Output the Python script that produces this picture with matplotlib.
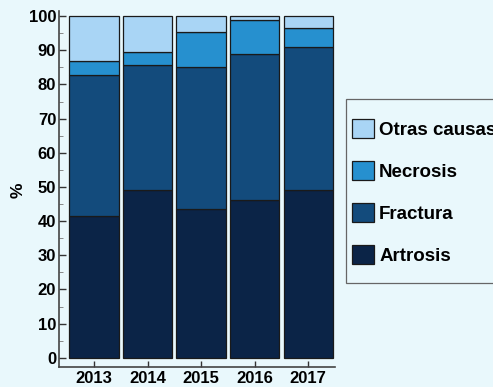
import matplotlib
matplotlib.use("Agg")
import matplotlib.pyplot as plt
from matplotlib.patches import Rectangle
import numpy as np

years = ["2013", "2014", "2015", "2016", "2017"]
artrosis = [41.5, 49.1, 43.5, 46.1, 49.0]
fractura = [41.2, 36.6, 41.6, 42.9, 42.0]
necrosis = [4.1, 3.9, 10.2, 9.8, 5.5]
otras = [13.2, 10.4, 4.7, 1.2, 3.5]

series = [("Artrosis", artrosis, "#0b2447"),
          ("Fractura", fractura, "#134b7c"),
          ("Necrosis", necrosis, "#2690cf"),
          ("Otras causas", otras, "#a9d5f5")]

plt.rcParams['font.family'] = ['Liberation Sans', 'DejaVu Sans']
plt.rcParams['font.weight'] = 'bold'

bg = "#e9f8fc"
fig = plt.figure(figsize=(4.93, 3.87), dpi=100, facecolor=bg)
ax = fig.add_axes([59/493, 20/387, (335-59)/493, (367-11)/387], facecolor=bg)

x = np.arange(len(years))
bottom = np.zeros(len(years))
handles = {}
for name, vals, col in series:
    b = ax.bar(x, vals, bottom=bottom, width=0.92, color=col,
               edgecolor="#1a1a1a", linewidth=0.9, label=name)
    handles[name] = b
    bottom += np.array(vals)

ax.set_xlim(-0.654, 4.5)
ax.set_ylim(-2.7, 101.5)
ax.set_yticks(np.arange(0, 101, 10))
ax.set_yticks(np.arange(0, 101, 5), minor=True)
ax.set_xticks(x)
ax.set_xticklabels(years)
ax.tick_params(axis='both', direction='in', labelsize=12, colors="#333333",
               labelcolor="black", width=1)
ax.tick_params(axis='y', which='major', length=5, pad=2)
ax.tick_params(axis='y', which='minor', length=3, direction='in', colors="#777777")
ax.tick_params(axis='x', length=4, pad=3)
for lab in ax.get_xticklabels() + ax.get_yticklabels():
    lab.set_fontweight('bold')
for s in ['top', 'right']:
    ax.spines[s].set_visible(False)
for s in ['left', 'bottom']:
    ax.spines[s].set_color("#444444")
    ax.spines[s].set_linewidth(1.2)

fig.text(18/493, 1 - 190/387, "%", rotation=90, fontsize=12.5, fontweight='bold',
         ha='center', va='center')

# legend frame
fig.patches.append(Rectangle((346/493, 1 - 283/387), 160/493, 184/387,
                             transform=fig.transFigure, facecolor=bg,
                             edgecolor="#666666", linewidth=0.9, zorder=0))

order = ["Otras causas", "Necrosis", "Fractura", "Artrosis"]
leg = fig.legend([handles[n] for n in order], order, loc='upper left',
                 bbox_to_anchor=(352/493, 1 - 119/387), borderaxespad=0,
                 prop={'weight': 'bold', 'size': 13.5},
                 handlelength=1.15, handleheight=1.15, labelspacing=1.2,
                 handletextpad=0.3, borderpad=0, frameon=False)

fig.savefig("out.png", dpi=100, facecolor=bg)
